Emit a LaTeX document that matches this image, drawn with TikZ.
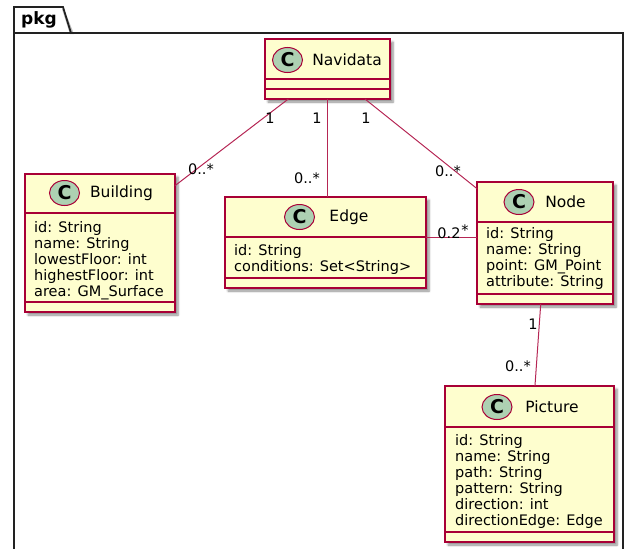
\documentclass[tikz,border=0pt]{standalone}
\usepackage{fontspec}
\setmainfont{DejaVu Sans}
\usetikzlibrary{shadows.blur,shapes.geometric}
\definecolor{umlred}{HTML}{A80036}
\definecolor{umlfill}{HTML}{FEFECE}
\definecolor{umlcirc}{HTML}{ADD1B2}
\definecolor{framecol}{HTML}{222222}
\tikzset{
  classbox/.style={draw=umlred, fill=umlfill, line width=1.2pt, inner sep=0pt, outer sep=0pt,
    blur shadow={shadow xshift=3pt, shadow yshift=-3pt, shadow blur steps=6, shadow opacity=45}},
  sepline/.style={draw=umlred, line width=1.2pt},
  circ/.style={ellipse, draw=umlred, fill=umlcirc, line width=1pt, minimum width=30pt, minimum height=25pt, inner sep=0pt,
    font=\fontsize{19}{20}\selectfont\bfseries},
  title/.style={font=\fontsize{15.5}{17}\selectfont, inner sep=0pt, anchor=center},
  attr/.style={font=\fontsize{14.5}{16}\selectfont, inner sep=0pt, anchor=base west},
  mult/.style={font=\fontsize{14.5}{16}\selectfont, inner sep=0pt, anchor=center},
  assoc/.style={draw=umlred!85, line width=1pt},
  frameline/.style={draw=framecol, line width=1.8pt}
}
\begin{document}
\begin{tikzpicture}[x=1pt,y=-1pt]
\useasboundingbox (0,0) rectangle (625,549);
% package frame shadow
\fill[black!25] (64,9) -- (74,34) -- (70,34) -- (62,9) -- cycle;
% package frame
\draw[frameline] (14,549) -- (14,7) -- (63,7) -- (71,33);
\draw[frameline] (14,33) -- (623,33) -- (623,549);
\node[font=\fontsize{17}{18}\selectfont\bfseries, inner sep=0pt] (pkg) at (39,20) {pkg};

% classes
\node[classbox, minimum width=125pt, minimum height=60pt] (navidata) at (327.5,69) {};
\node[classbox, minimum width=150pt, minimum height=138pt] (building) at (100,243) {};
\node[classbox, minimum width=201pt, minimum height=91pt] (edge) at (325.5,242.5) {};
\node[classbox, minimum width=136pt, minimum height=122pt] (node) at (545,243) {};
\node[classbox, minimum width=169pt, minimum height=156pt] (picture) at (529.5,464) {};

% separators
\draw[sepline] (navidata.west |- 0,79) -- (navidata.east |- 0,79);
\draw[sepline] (navidata.west |- 0,89) -- (navidata.east |- 0,89);
\draw[sepline] (building.west |- 0,213) -- (building.east |- 0,213);
\draw[sepline] (building.west |- 0,302) -- (building.east |- 0,302);
\draw[sepline] (edge.west |- 0,237) -- (edge.east |- 0,237);
\draw[sepline] (edge.west |- 0,278) -- (edge.east |- 0,278);
\draw[sepline] (node.west |- 0,222) -- (node.east |- 0,222);
\draw[sepline] (node.west |- 0,294) -- (node.east |- 0,294);
\draw[sepline] (picture.west |- 0,427) -- (picture.east |- 0,427);
\draw[sepline] (picture.west |- 0,532) -- (picture.east |- 0,532);

% headers
\node[circ] (cnav) at (287.5,60) {C};
\node[title] (tnav) at (347,60) {Navidata};
\node[circ] (cbui) at (64.5,193) {C};
\node[title] (tbui) at (121.5,193) {Building};
\node[circ] (cedg) at (299.5,217) {C};
\node[title] (tedg) at (349,217) {Edge};
\node[circ] (cnod) at (519,202) {C};
\node[title] (tnod) at (565.5,202) {Node};
\node[circ] (cpic) at (497,407) {C};
\node[title] (tpic) at (552,407) {Picture};

% attributes
\foreach \t [count=\i] in {id: String, name: String, lowestFloor: int, highestFloor: int, area: GM\_Surface}
  \node[attr] (ba\i) at (34,{232+16*(\i-1)}) {\t};
\foreach \t [count=\i] in {id: String, conditions: Set<String>}
  \node[attr] (ea\i) at (234,{255+16*(\i-1)}) {\t};
\foreach \t [count=\i] in {id: String, name: String, point: GM\_Point, attribute: String}
  \node[attr] (na\i) at (486,{238+16*(\i-1)}) {\t};
\foreach \t [count=\i] in {id: String, name: String, path: String, pattern: String, direction: int, directionEdge: Edge}
  \node[attr] (pa\i) at (455,{445+16*(\i-1)}) {\t};

% associations
\draw[assoc] (navidata) -- (building);
\draw[assoc] (navidata) -- (navidata.south |- edge.north);
\draw[assoc] (navidata) -- (node);
\draw[assoc] ([yshift=5.5pt]edge.east) -- ([yshift=6pt]node.west);
\draw[assoc] (node) -- (picture);

% multiplicities
\node[mult] (m1) at (270,118) {1};
\node[mult] (m2) at (201,169) {0..*};
\node[mult] (m3) at (317,118) {1};
\node[mult] (m4) at (307,178) {0..*};
\node[mult] (m5) at (366,118) {1};
\node[mult] (m6) at (448,171) {0..*};
\node[mult] (m7) at (449,233) {0.2};
\node[mult] (m8) at (465,230) {*};
\node[mult] (m9) at (533,324) {1};
\node[mult] (m10) at (518,366) {0..*};
\end{tikzpicture}
\end{document}
